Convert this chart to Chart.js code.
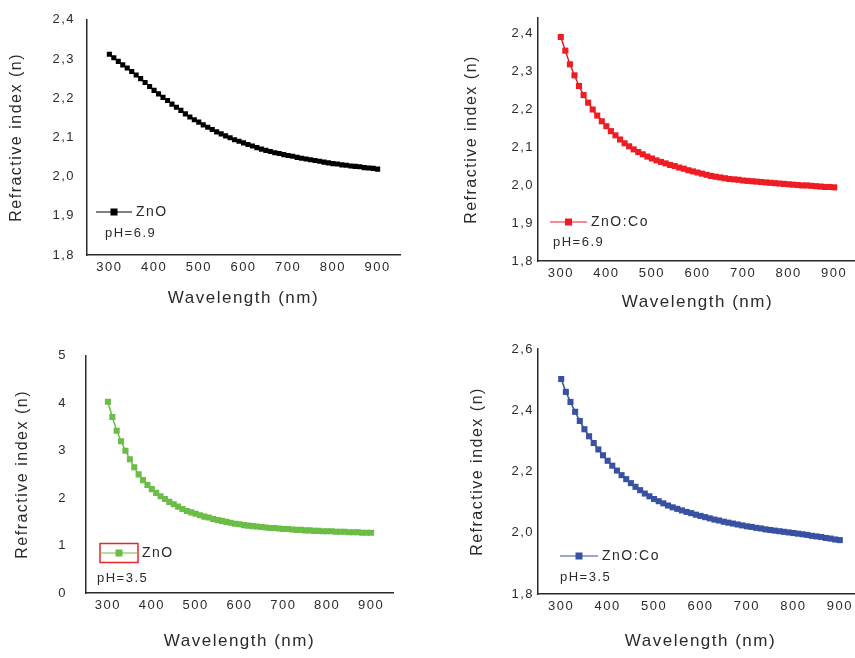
<!DOCTYPE html>
<html>
<head>
<meta charset="utf-8">
<script src="https://cdn.jsdelivr.net/npm/chart.js@4.4.1/dist/chart.umd.min.js"></script>
<style>
  body { margin: 0; background: #fff; overflow: hidden; width: 855px; height: 658px; position: relative; }
  canvas { position: absolute; }
</style>
</head>
<body>
<canvas id="c1" width="430" height="329" style="left:0;top:0"></canvas>
<canvas id="c2" width="440" height="329" style="left:430px;top:0"></canvas>
<canvas id="c3" width="430" height="329" style="left:0;top:329px"></canvas>
<canvas id="c4" width="440" height="329" style="left:430px;top:329px"></canvas>
<script>
// Wavelength (nm), one point every 10 nm
const wavelength = [300, 310, 320, 330, 340, 350, 360, 370, 380, 390,
  400, 410, 420, 430, 440, 450, 460, 470, 480, 490,
  500, 510, 520, 530, 540, 550, 560, 570, 580, 590,
  600, 610, 620, 630, 640, 650, 660, 670, 680, 690,
  700, 710, 720, 730, 740, 750, 760, 770, 780, 790,
  800, 810, 820, 830, 840, 850, 860, 870, 880, 890, 900];

// Refractive index
const znoPH69 = [2.312, 2.303, 2.294, 2.285, 2.277, 2.268, 2.259, 2.250, 2.240, 2.230,
  2.220, 2.211, 2.202, 2.194, 2.185, 2.177, 2.169, 2.160, 2.152, 2.145,
  2.139, 2.132, 2.126, 2.120, 2.114, 2.109, 2.104, 2.099, 2.094, 2.090,
  2.086, 2.082, 2.078, 2.074, 2.070, 2.067, 2.064, 2.061, 2.059, 2.056,
  2.054, 2.052, 2.049, 2.047, 2.045, 2.043, 2.041, 2.039, 2.037, 2.035,
  2.033, 2.032, 2.030, 2.029, 2.027, 2.026, 2.025, 2.023, 2.022, 2.021, 2.019];

const znoCoPH69 = [2.390, 2.354, 2.318, 2.289, 2.261, 2.237, 2.217, 2.199, 2.183, 2.168,
  2.155, 2.142, 2.131, 2.120, 2.110, 2.102, 2.094, 2.087, 2.081, 2.075,
  2.070, 2.065, 2.061, 2.057, 2.053, 2.050, 2.046, 2.043, 2.039, 2.036,
  2.033, 2.030, 2.027, 2.024, 2.022, 2.020, 2.018, 2.016, 2.015, 2.014,
  2.012, 2.011, 2.010, 2.009, 2.008, 2.007, 2.006, 2.005, 2.004, 2.003,
  2.002, 2.001, 2.000, 1.999, 1.999, 1.998, 1.997, 1.996, 1.995, 1.995, 1.994];

const znoPH35 = [4.03, 3.71, 3.42, 3.20, 3.00, 2.82, 2.65, 2.50, 2.38, 2.28,
  2.19, 2.11, 2.04, 1.98, 1.92, 1.87, 1.82, 1.77, 1.73, 1.70,
  1.67, 1.64, 1.61, 1.59, 1.56, 1.54, 1.52, 1.50, 1.48, 1.46,
  1.45, 1.43, 1.42, 1.41, 1.40, 1.39, 1.38, 1.37, 1.37, 1.36,
  1.35, 1.35, 1.34, 1.33, 1.33, 1.32, 1.32, 1.31, 1.31, 1.30,
  1.30, 1.30, 1.29, 1.29, 1.29, 1.28, 1.28, 1.28, 1.27, 1.27, 1.27];

const znoCoPH35 = [2.502, 2.460, 2.427, 2.395, 2.365, 2.338, 2.315, 2.293, 2.272, 2.253,
  2.235, 2.219, 2.203, 2.188, 2.175, 2.162, 2.150, 2.139, 2.128, 2.119,
  2.110, 2.103, 2.096, 2.089, 2.083, 2.078, 2.073, 2.068, 2.064, 2.059,
  2.055, 2.051, 2.047, 2.043, 2.040, 2.036, 2.033, 2.030, 2.027, 2.024,
  2.021, 2.019, 2.016, 2.014, 2.011, 2.009, 2.007, 2.005, 2.003, 2.001,
  1.999, 1.997, 1.995, 1.993, 1.990, 1.988, 1.986, 1.983, 1.981, 1.978, 1.976];

// Tick labels
const xTicks = [300, 400, 500, 600, 700, 800, 900];
const yTicksA = [1.8, 1.9, 2.0, 2.1, 2.2, 2.3, 2.4];
const yTicksB = [0, 1, 2, 3, 4, 5];
const yTicksC = [1.8, 2.0, 2.2, 2.4, 2.6];

const FONT = '"Liberation Sans", Arial, sans-serif';
const INK = '#2b2b2b';

// Draws the little "—■— label / pH=x" legend inside the plot
const noteLegend = {
    id: 'noteLegend',
    beforeDraw(chart) {
        chart.ctx.letterSpacing = '1.5px';
    },
    afterDraw(chart, args, opts) {
        const ctx = chart.ctx;
        const area = chart.chartArea;
        const ds = chart.data.datasets[0];
        const y = area.bottom + opts.lineY;
        ctx.save();
        if (opts.box) {
            ctx.strokeStyle = '#e8252b';
            ctx.lineWidth = 1.5;
            ctx.strokeRect(area.left + opts.lineFrom, y - 9.5, opts.lineTo - opts.lineFrom, 19);
        }
        ctx.strokeStyle = ds.borderColor;
        ctx.lineWidth = 1.2;
        ctx.beginPath();
        ctx.moveTo(area.left + opts.lineFrom, y);
        ctx.lineTo(area.left + opts.lineTo, y);
        ctx.stroke();
        ctx.fillStyle = ds.borderColor;
        const mx = area.left + (opts.lineFrom + opts.lineTo) / 2;
        ctx.fillRect(mx - 3.5, y - 3.5, 7, 7);
        ctx.fillStyle = INK;
        ctx.textBaseline = 'middle';
        ctx.textAlign = 'left';
        ctx.font = '14px ' + FONT;
        ctx.fillText(ds.label, area.left + opts.lineTo + 4, y);
        ctx.font = '13px ' + FONT;
        ctx.fillText(opts.note, area.left + opts.noteX, area.bottom + opts.noteY);
        ctx.restore();
    }
};

function makeChart(id, series, label, color, pointSize, yMin, yMax, yTicks, decimals, box) {
    const canvas = document.getElementById(id);
    const H = canvas.height;
    new Chart(canvas, {
        type: 'line',
        data: {
            datasets: [{
                label: label,
                data: wavelength.map((w, i) => ({ x: w, y: series[i] })),
                borderColor: color,
                backgroundColor: color,
                borderWidth: 1.5,
                pointStyle: 'rect',
                pointRadius: pointSize,
                pointBorderWidth: 0,
                tension: 0
            }]
        },
        options: {
            responsive: false,
            animation: false,
            events: [],
            layout: { padding: { top: box.top, right: canvas.width - box.right, left: 0, bottom: 0 } },
            plugins: {
                legend: { display: false },
                tooltip: { enabled: false },
                noteLegend: box.legend
            },
            scales: {
                x: {
                    type: 'linear',
                    min: 250,
                    max: 950,
                    afterBuildTicks: scale => { scale.ticks = xTicks.map(v => ({ value: v })); },
                    afterFit: scale => { scale.height = H - box.bottom; },
                    grid: { display: false, drawTicks: false },
                    border: { display: true, color: INK, width: 1.5 },
                    ticks: { color: INK, padding: 5, maxRotation: 0, font: { family: FONT, size: 13 } },
                    title: {
                        display: true,
                        text: 'Wavelength (nm)',
                        color: INK,
                        font: { family: FONT, size: 17, lineHeight: 1 },
                        padding: { bottom: box.xTitlePad }
                    }
                },
                y: {
                    min: yMin,
                    max: yMax,
                    afterBuildTicks: scale => { scale.ticks = yTicks.map(v => ({ value: v })); },
                    afterFit: scale => { scale.width = box.left; },
                    grid: { display: false, drawTicks: false },
                    border: { display: true, color: INK, width: 1.5 },
                    ticks: {
                        color: INK,
                        padding: box.yTickPad,
                        font: { family: FONT, size: 13 },
                        callback: v => v.toFixed(decimals).replace('.', ',')
                    },
                    title: {
                        display: true,
                        text: 'Refractive index (n)',
                        color: INK,
                        font: { family: FONT, size: 16, lineHeight: 1 },
                        padding: { top: box.yTitlePad }
                    }
                }
            }
        },
        plugins: [noteLegend]
    });
}

makeChart('c1', znoPH69, 'ZnO', '#000000', 3.6, 1.8, 2.4, yTicksA, 1, {
    left: 87, right: 400, top: 10, bottom: 255, yTickPad: 12, yTitlePad: 9, xTitlePad: 22,
    legend: { lineY: -43, lineFrom: 9, lineTo: 45, noteX: 18, noteY: -22, note: 'pH=6.9' }
});
makeChart('c2', znoCoPH69, 'ZnO:Co', '#ee1d23', 4.3, 1.8, 2.44, yTicksA, 1, {
    left: 108, right: 427, top: 18, bottom: 261, yTickPad: 4, yTitlePad: 34, xTitlePad: 18,
    legend: { lineY: -39, lineFrom: 12, lineTo: 49, noteX: 15, noteY: -19, note: 'pH=6.9' }
});
makeChart('c3', znoPH35, 'ZnO', '#6cbd45', 4.3, 0, 5, yTicksB, 0, {
    left: 86, right: 393, top: 15, bottom: 264, yTickPad: 19, yTitlePad: 15, xTitlePad: 8,
    legend: { lineY: -40, lineFrom: 14, lineTo: 52, noteX: 11, noteY: -15, note: 'pH=3.5', box: true }
});
makeChart('c4', znoCoPH35, 'ZnO:Co', '#3951a3', 4.3, 1.8, 2.6, yTicksC, 1, {
    left: 108, right: 433, top: 20, bottom: 265, yTickPad: 4, yTitlePad: 40, xTitlePad: 8,
    legend: { lineY: -38, lineFrom: 22, lineTo: 60, noteX: 22, noteY: -17, note: 'pH=3.5' }
});
</script>
</body>
</html>
